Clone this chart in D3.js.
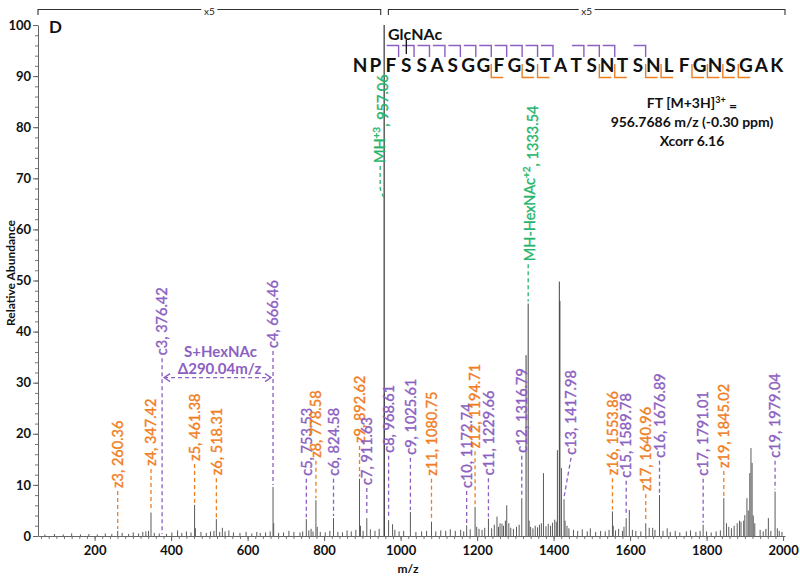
<!DOCTYPE html>
<html><head><meta charset="utf-8">
<script src="https://cdn.jsdelivr.net/npm/d3@7"></script>
<style>
body{margin:0;background:#fff}
svg{display:block}
text{font-family:Lato,"Open Sans",sans-serif}
</style>
</head><body>
<svg id="chart" width="800" height="578"></svg>
<script>
// ---------- DATA ----------
const peakMz = [260.36,347.42,461.38,463.5,518.31,534,551,624,666.46,668.2,753.53,766,778.58,782,824.58,892.62,895,911.63,
  957.06,957.73,968.61,979,1025.61,1080.75,1172.74,1194.71,1199,1229.66,1252,1260,1277.5,1283,1316.79,1328,1333.54,1336,
  1368,1373.5,1410,1415,1416.5,1420.5,1427.3,1430,1553.86,1556,1589.78,1598,1640.96,1659,1676.89,1697,1791.01,1845.02,
  1852,1858,1865,1872,1880,1886,1890,1897,1900,1905.5,1909,1913,1916,1919,1922,1926,1961.5,1979.04,1985];
const peakIntensity = [1.0,4.6,6.1,1.5,3.3,1.6,1.1,0.8,9.6,2.5,3.3,1.4,7.0,1.8,3.5,11.2,2.0,3.5,
  100,28,3.1,2.3,4.7,2.8,2.1,5.7,1.8,3.4,3.8,2.5,6.0,2.5,7.4,35.4,45.5,3.0,
  2.5,12.3,16.8,49.8,46,13.3,7.2,3.0,4.8,2.0,3.5,5.1,2.5,1.6,8.0,1.5,2.2,7.4,
  2.5,1.8,1.5,2.0,2.5,3.0,2.8,3.0,4.1,7.4,5.0,12.3,17.2,14.3,4.0,2.5,3.5,8.7,1.5];

const noiseMz = [70,95,118,140,163,185,207,228,245,272,289,301,315,326,334,341,356,369,388,402,417,428,440,452,478,492,503,512,527,541,563,580,596,611,633,647,659,681,694,708,721,737,744,760,771,790,803,815,836,848,860,871,883,902,921,933,944,985,996,1008,1040,1055,1068,1092,1105,1118,1130,1143,1157,1165,1182,1205,1213,1220,1238,1245,1256,1265,1269,1274,1288,1295,1303,1310,1340,1346,1352,1358,1363,1380,1386,1392,1397,1403,1407,1435,1440,1452,1463,1475,1488,1496,1510,1523,1535,1545,1562,1570,1580,1584,1606,1615,1628,1650,1665,1686,1705,1718,1730,1747,1758,1772,1783,1800,1812,1825,1836,1940,1948,1955,1968,1990,1997];
const noiseIntensity = [0.3,0.4,0.3,0.5,0.3,0.4,0.3,0.5,0.4,0.6,0.4,0.7,0.5,0.8,0.9,1.0,0.6,0.5,0.4,0.7,1.1,0.6,0.9,0.7,0.8,0.6,0.9,1.0,0.8,0.9,0.7,0.6,0.8,0.5,0.6,0.7,0.9,0.6,0.7,1.0,0.8,0.7,0.9,1.1,0.9,0.8,0.7,1.0,0.8,0.7,1.1,0.9,1.2,1.0,1.3,1.0,1.4,1.2,0.9,1.0,0.8,0.9,1.0,0.9,1.1,1.0,1.3,1.0,1.2,0.9,1.3,1.4,1.2,1.6,1.5,2.2,1.8,2.4,2.0,3.0,1.6,1.4,1.8,2.2,1.8,1.5,2.0,1.7,2.2,1.9,2.4,2.0,2.6,3.2,2.8,2.0,1.5,1.2,1.0,1.3,0.9,1.5,0.8,1.0,0.9,1.2,1.1,1.4,1.0,1.8,1.2,1.0,0.9,1.6,1.2,1.0,0.8,1.0,0.7,0.9,1.1,0.8,1.0,0.9,0.7,0.9,1.1,1.2,0.9,1.4,1.0,1.0,0.8];

// fragment ion annotations
const ionNames = ["z3","z4","c3","z5","z6","c4","c5","z8","c6","z9","c7","c8","c9","z11","c10","z12","c11","c12","c13","z16","c15","z17","c16","c17","z19","c19"];
const ionMz = [260.36,347.42,376.42,461.38,518.31,666.46,753.53,778.58,824.58,892.62,911.63,968.61,1025.61,1080.75,1172.74,1194.71,1229.66,1316.79,1417.98,1553.86,1589.78,1640.96,1676.89,1791.01,1845.02,1979.04];
const ionLabelLevel = [9.0,13.3,35.0,14.3,11.5,36.4,11.4,14.9,11.4,17.8,9.6,15.9,15.5,11.4,9.0,16.8,11.5,15.9,15.5,11.5,11.0,8.4,14.9,11.4,12.9,14.9];
const ionPeakMz = [260.36,347.42,376.42,461.38,518.31,666.46,753.53,778.58,824.58,892.62,911.63,968.61,1025.61,1080.75,1172.74,1194.71,1229.66,1316.79,1427.3,1553.86,1589.78,1640.96,1676.89,1791.01,1845.02,1979.04];

// precursor-related annotations
const precName = ["MH", "MH-HexNAc"];
const precCharge = ["+3", "+2"];
const precMz = [957.06, 1333.54];
const precLabelLevel = [72.6, 53.4];

const sequence = "NPFSSASGGFGSTATSNTSNLFGNSGAK".split("");
const magnifiedRanges = [[52, 948], [968, 2005]];
const magnification = "x5";
const xTicks = [200,400,600,800,1000,1200,1400,1600,1800,2000];
const yTicks = [0,10,20,30,40,50,60,70,80,90,100];
const infoLines = ["956.7686 m/z (-0.30 ppm)", "Xcorr 6.16"];

// ---------- CHART ----------
const purple = "#8c5fc2", orange = "#f07e1f", green = "#26b56c", grey = "#5a5a5a";
const svg = d3.select("#chart");
const x = d3.scaleLinear().domain([52, 2005]).range([38, 785]);
const y = d3.scaleLinear().domain([0, 100]).range([536, 25]);

// axes
const xMinor = d3.range(60, 2001, 20);
svg.append("g").attr("transform","translate(0,536)")
  .call(d3.axisBottom(x).tickValues(xMinor).tickSize(3).tickFormat(""))
  .call(g=>g.select(".domain").remove())
  .selectAll("line").attr("stroke","#777");
const gx = svg.append("g").attr("transform","translate(0,536)")
  .call(d3.axisBottom(x).tickValues(xTicks).tickSize(5).tickSizeOuter(0).tickFormat(d3.format("d")));
gx.select(".domain").attr("stroke","#666");
gx.selectAll("line").attr("stroke","#666");
gx.selectAll("text").attr("font-size",13).attr("font-weight","bold").attr("fill","#111").attr("dy","0.82em");

const yMinor = d3.range(0, 101, 2);
svg.append("g").attr("transform","translate(38,0)")
  .call(d3.axisLeft(y).tickValues(yMinor).tickSize(3).tickFormat(""))
  .call(g=>g.select(".domain").remove())
  .selectAll("line").attr("stroke","#777");
const gy = svg.append("g").attr("transform","translate(38,0)")
  .call(d3.axisLeft(y).tickValues(yTicks).tickSize(5).tickSizeOuter(0));
gy.select(".domain").attr("stroke","#666");
gy.selectAll("line").attr("stroke","#666");
gy.selectAll("text").attr("font-size",13).attr("font-weight","bold").attr("fill","#111").attr("x",-7);

svg.append("text").attr("transform","translate(15,273) rotate(-90)").attr("text-anchor","middle")
  .attr("font-size",12).attr("font-weight","bold").attr("fill","#111").text("Relative Abundance");
svg.append("text").attr("x",408).attr("y",573).attr("text-anchor","middle")
  .attr("font-size",12).attr("font-weight","bold").attr("fill","#111").text("m/z");
svg.append("text").attr("x",49).attr("y",33).attr("font-size",17).attr("font-weight","bold").attr("fill","#111").text("D");

// magnification brackets
magnifiedRanges.forEach(r=>{
  const x0 = x(r[0]), x1 = x(r[1]), ym = 9.5;
  svg.append("path").attr("d",`M${x0},15V${ym}H${x1}V15`).attr("fill","none").attr("stroke","#333").attr("stroke-width",1.1);
  const cx = (x0+x1)/2;
  svg.append("rect").attr("x",cx-8).attr("y",4).attr("width",16).attr("height",11).attr("fill","#fff");
  svg.append("text").attr("x",cx).attr("y",15).attr("text-anchor","middle").attr("font-size",10).attr("fill","#222").text(magnification);
});

// spectrum
const allPeaks = noiseMz.map((m,i)=>[m,noiseIntensity[i]]).concat(peakMz.map((m,i)=>[m,peakIntensity[i]]));
svg.append("g").selectAll("line").data(allPeaks).join("line")
  .attr("x1",d=>x(d[0])).attr("x2",d=>x(d[0]))
  .attr("y1",y(0)).attr("y2",d=>y(d[1]))
  .attr("stroke",d=>d[1]>20?"#444":grey).attr("stroke-width",d=>d[1]>60?1.3:1);

// fragment labels
function nearestPeak(m){
  let best=null, bd=1e9;
  peakMz.forEach((p,i)=>{const dd=Math.abs(p-m); if(dd<bd){bd=dd;best=i;}});
  return bd<1.5 ? peakIntensity[best] : 0;
}
const ions = ionNames.map((n,i)=>({n, mz:ionMz[i], lvl:ionLabelLevel[i], pm:ionPeakMz[i]}));
const lab = svg.append("g");
ions.forEach(d=>{
  const col = d.n[0]==="c" ? purple : orange;
  const px = x(d.pm);
  const tx = d.pm!==d.mz ? px+7 : px;
  const tip = nearestPeak(d.pm);
  lab.append("path").attr("d",`M${tx},${y(d.lvl)+1}L${px},${y(tip)-2}`)
    .attr("stroke",col).attr("stroke-width",1.3).attr("stroke-dasharray","4,3").attr("fill","none");
  lab.append("text").attr("transform",`translate(${tx},${y(d.lvl)-2}) rotate(-90)`)
    .attr("dy","0.36em").attr("font-size",14.5).attr("fill",col)
    .attr("stroke",col).attr("stroke-width",0.35)
    .text(`${d.n}, ${d.mz.toFixed(2)}`);
});

// precursor labels
precMz.forEach((m,i)=>{
  const px = x(m);
  const tip = nearestPeak(m);
  const tx = i===0 ? px-4 : px+2;
  const yb = y(precLabelLevel[i]);
  const d = i===0 ? `M${tx},${yb+1}V${yb+24}L${px},${y(66)}` : `M${px},${yb+1}V${y(tip)-2}`;
  lab.append("path").attr("d",d).attr("stroke",green).attr("stroke-width",1.3).attr("stroke-dasharray","4,3").attr("fill","none");
  const t = lab.append("text").attr("transform",`translate(${tx},${yb-2}) rotate(-90)`)
    .attr("dy","0.36em").attr("font-size",14.5).attr("fill",green).attr("stroke",green).attr("stroke-width",0.35);
  t.append("tspan").text(precName[i]);
  t.append("tspan").attr("font-size",10).attr("dy","-0.5em").text(precCharge[i]);
  t.append("tspan").attr("dy","0.5em").text(", " + m.toFixed(2));
});

// delta annotation between c3 and c4
const c3x = x(ionMz[2]), c4x = x(ionMz[5]), ay = y(31);
svg.append("path").attr("d",`M${c3x+2},${ay}H${c4x-2}`).attr("stroke",purple).attr("stroke-width",1.3).attr("stroke-dasharray","4,3");
svg.append("path").attr("d",`M${c3x+8},${ay-4}L${c3x+2},${ay}L${c3x+8},${ay+4}M${c4x-8},${ay-4}L${c4x-2},${ay}L${c4x-8},${ay+4}`)
  .attr("stroke",purple).attr("stroke-width",1.3).attr("fill","none");
svg.append("text").attr("x",(c3x+c4x)/2+3).attr("y",ay-21).attr("text-anchor","middle").attr("font-size",15).attr("font-weight","bold").attr("fill",purple).text("S+HexNAc");
svg.append("text").attr("x",(c3x+c4x)/2+2).attr("y",ay-4).attr("text-anchor","middle").attr("font-size",15).attr("font-weight","bold").attr("fill",purple).text("Δ" + (ionMz[5]-ionMz[2]).toFixed(2) + "m/z");

// peptide sequence with fragment markers
const lx = i => 360 + i*15.44;
const seqG = svg.append("g");
seqG.selectAll("text").data(sequence).join("text")
  .attr("x",(d,i)=>lx(i)).attr("y",72).attr("text-anchor","middle")
  .attr("font-size",19).attr("font-weight","bold").attr("fill","#111").text(d=>d);
ionNames.forEach(n=>{
  const k = +n.slice(1);
  if(n[0]==="c"){
    const xc = lx(k-1)+7.72;
    seqG.append("path").attr("d",`M${xc-12},45.5H${xc}V57`).attr("stroke",purple).attr("stroke-width",1.4).attr("fill","none");
  } else {
    const xc = lx(sequence.length-k-1)+7.72;
    seqG.append("path").attr("d",`M${xc},64V77.5H${xc+12}`).attr("stroke",orange).attr("stroke-width",1.4).attr("fill","none");
  }
});
seqG.append("text").attr("x",388).attr("y",40).attr("font-size",16).attr("font-weight","bold").attr("fill","#111").text("GlcNAc");
seqG.append("line").attr("x1",lx(3)).attr("x2",lx(3)).attr("y1",40).attr("y2",54).attr("stroke","#111").attr("stroke-width",1.3);

// info text
const info = svg.append("g").attr("font-weight","bold").attr("font-size",14).attr("fill","#111").attr("text-anchor","middle");
const t1 = info.append("text").attr("x",692).attr("y",108);
t1.append("tspan").text("FT [M+3H]");
t1.append("tspan").attr("font-size",9).attr("dy","-0.6em").text("3+");
t1.append("tspan").attr("dy","0.6em").text(" =");
infoLines.forEach((s,i)=>info.append("text").attr("x",692).attr("y",127+i*18.5).text(s));
</script>
</body></html>
